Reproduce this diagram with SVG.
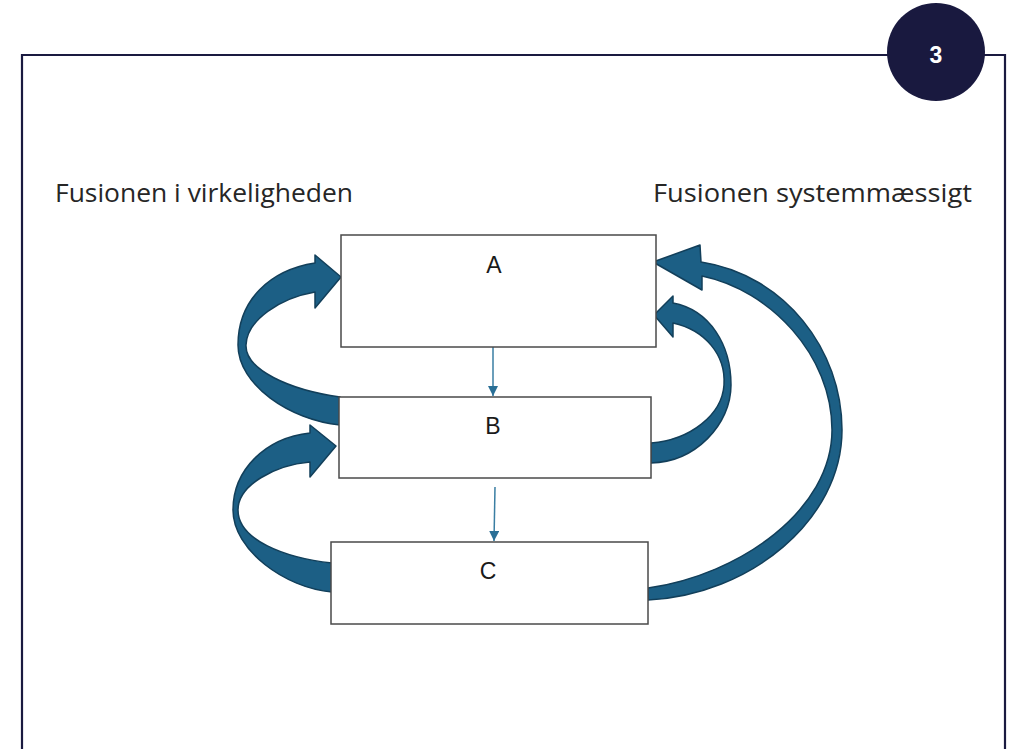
<svg xmlns="http://www.w3.org/2000/svg" width="1010" height="749" viewBox="0 0 1010 749">
<defs>
<style>
.frame{fill:none;stroke:#1a1a40;stroke-width:2.2}
.box{fill:#fff;stroke:#4a4a4a;stroke-width:1.5}
.lbl{font-family:"Liberation Sans",Arial,sans-serif;font-size:23px;fill:#1a1a1a;text-anchor:middle}
.head{font-family:"Open Sans","Liberation Sans",sans-serif;font-size:25px;fill:#262626}
.band{fill:#1c5f85;stroke:#123f5a;stroke-width:1.5;stroke-linejoin:round}
.link{stroke:#3a7ea3;stroke-width:1.5;fill:none}
</style>
<marker id="ah" viewBox="0 0 10 10" refX="10" refY="5" markerWidth="10" markerHeight="10" markerUnits="userSpaceOnUse" orient="auto">
<path d="M0,0 L10,5 L0,10 Z" fill="#2a6f96"/>
</marker>
</defs>
<rect width="1010" height="749" fill="#fff"/>
<path class="frame" d="M22,760 L22,55 L1005,55 L1005,760"/>
<g id="badge">
<circle cx="936" cy="52" r="49" fill="#19193f"/>
<text x="936" y="63" font-family="Liberation Sans,Arial,sans-serif" font-size="23" font-weight="bold" fill="#fff" text-anchor="middle">3</text>
</g>
<text class="head" x="55" y="202" textLength="298" lengthAdjust="spacingAndGlyphs">Fusionen i virkeligheden</text>
<text class="head" x="653" y="202" textLength="319" lengthAdjust="spacingAndGlyphs">Fusionen systemmæssigt</text>
<g id="connectors">
<path class="band" d="M340,397 C290,390 245,370 246,345 C247,320 280,298 315,292 L315,308 L341,277 L315,255 L315,263 C270,270 238,300 238,345 C238,385 290,420 340,425 Z"/>
<path class="band" d="M332,563 C285,558 238,540 238,510 C238,485 275,465 310,462 L310,477 L336,446 L310,425 L310,433 C265,438 233,470 233,510 C233,550 285,588 332,592 Z"/>
<path class="band" d="M651,443 C690,440 722,415 724,385 C726,355 705,330 673,323 L673,337 L654,315 L673,296 L673,303 C710,310 731,345 731,385 C731,425 695,462 651,463 Z"/>
<path class="band" d="M648,588 C740,575 832,510 832,430 C832,355 770,290 702,276 L702,290 L653,262 L700,245 L701,262 C785,275 842,350 842,430 C842,520 750,595 648,600 Z"/>
<path class="link" d="M493,347 L493,396" marker-end="url(#ah)"/>
<path class="link" d="M495,487 L494,541" marker-end="url(#ah)"/>
</g>
<g id="node-a">
<rect class="box" x="341" y="235" width="315" height="112"/>
<text class="lbl" x="494" y="273">A</text>
</g>
<g id="node-b">
<rect class="box" x="339" y="397" width="312" height="81"/>
<text class="lbl" x="493" y="434">B</text>
</g>
<g id="node-c">
<rect class="box" x="331" y="542" width="317" height="82"/>
<text class="lbl" x="488" y="579">C</text>
</g>
</svg>
